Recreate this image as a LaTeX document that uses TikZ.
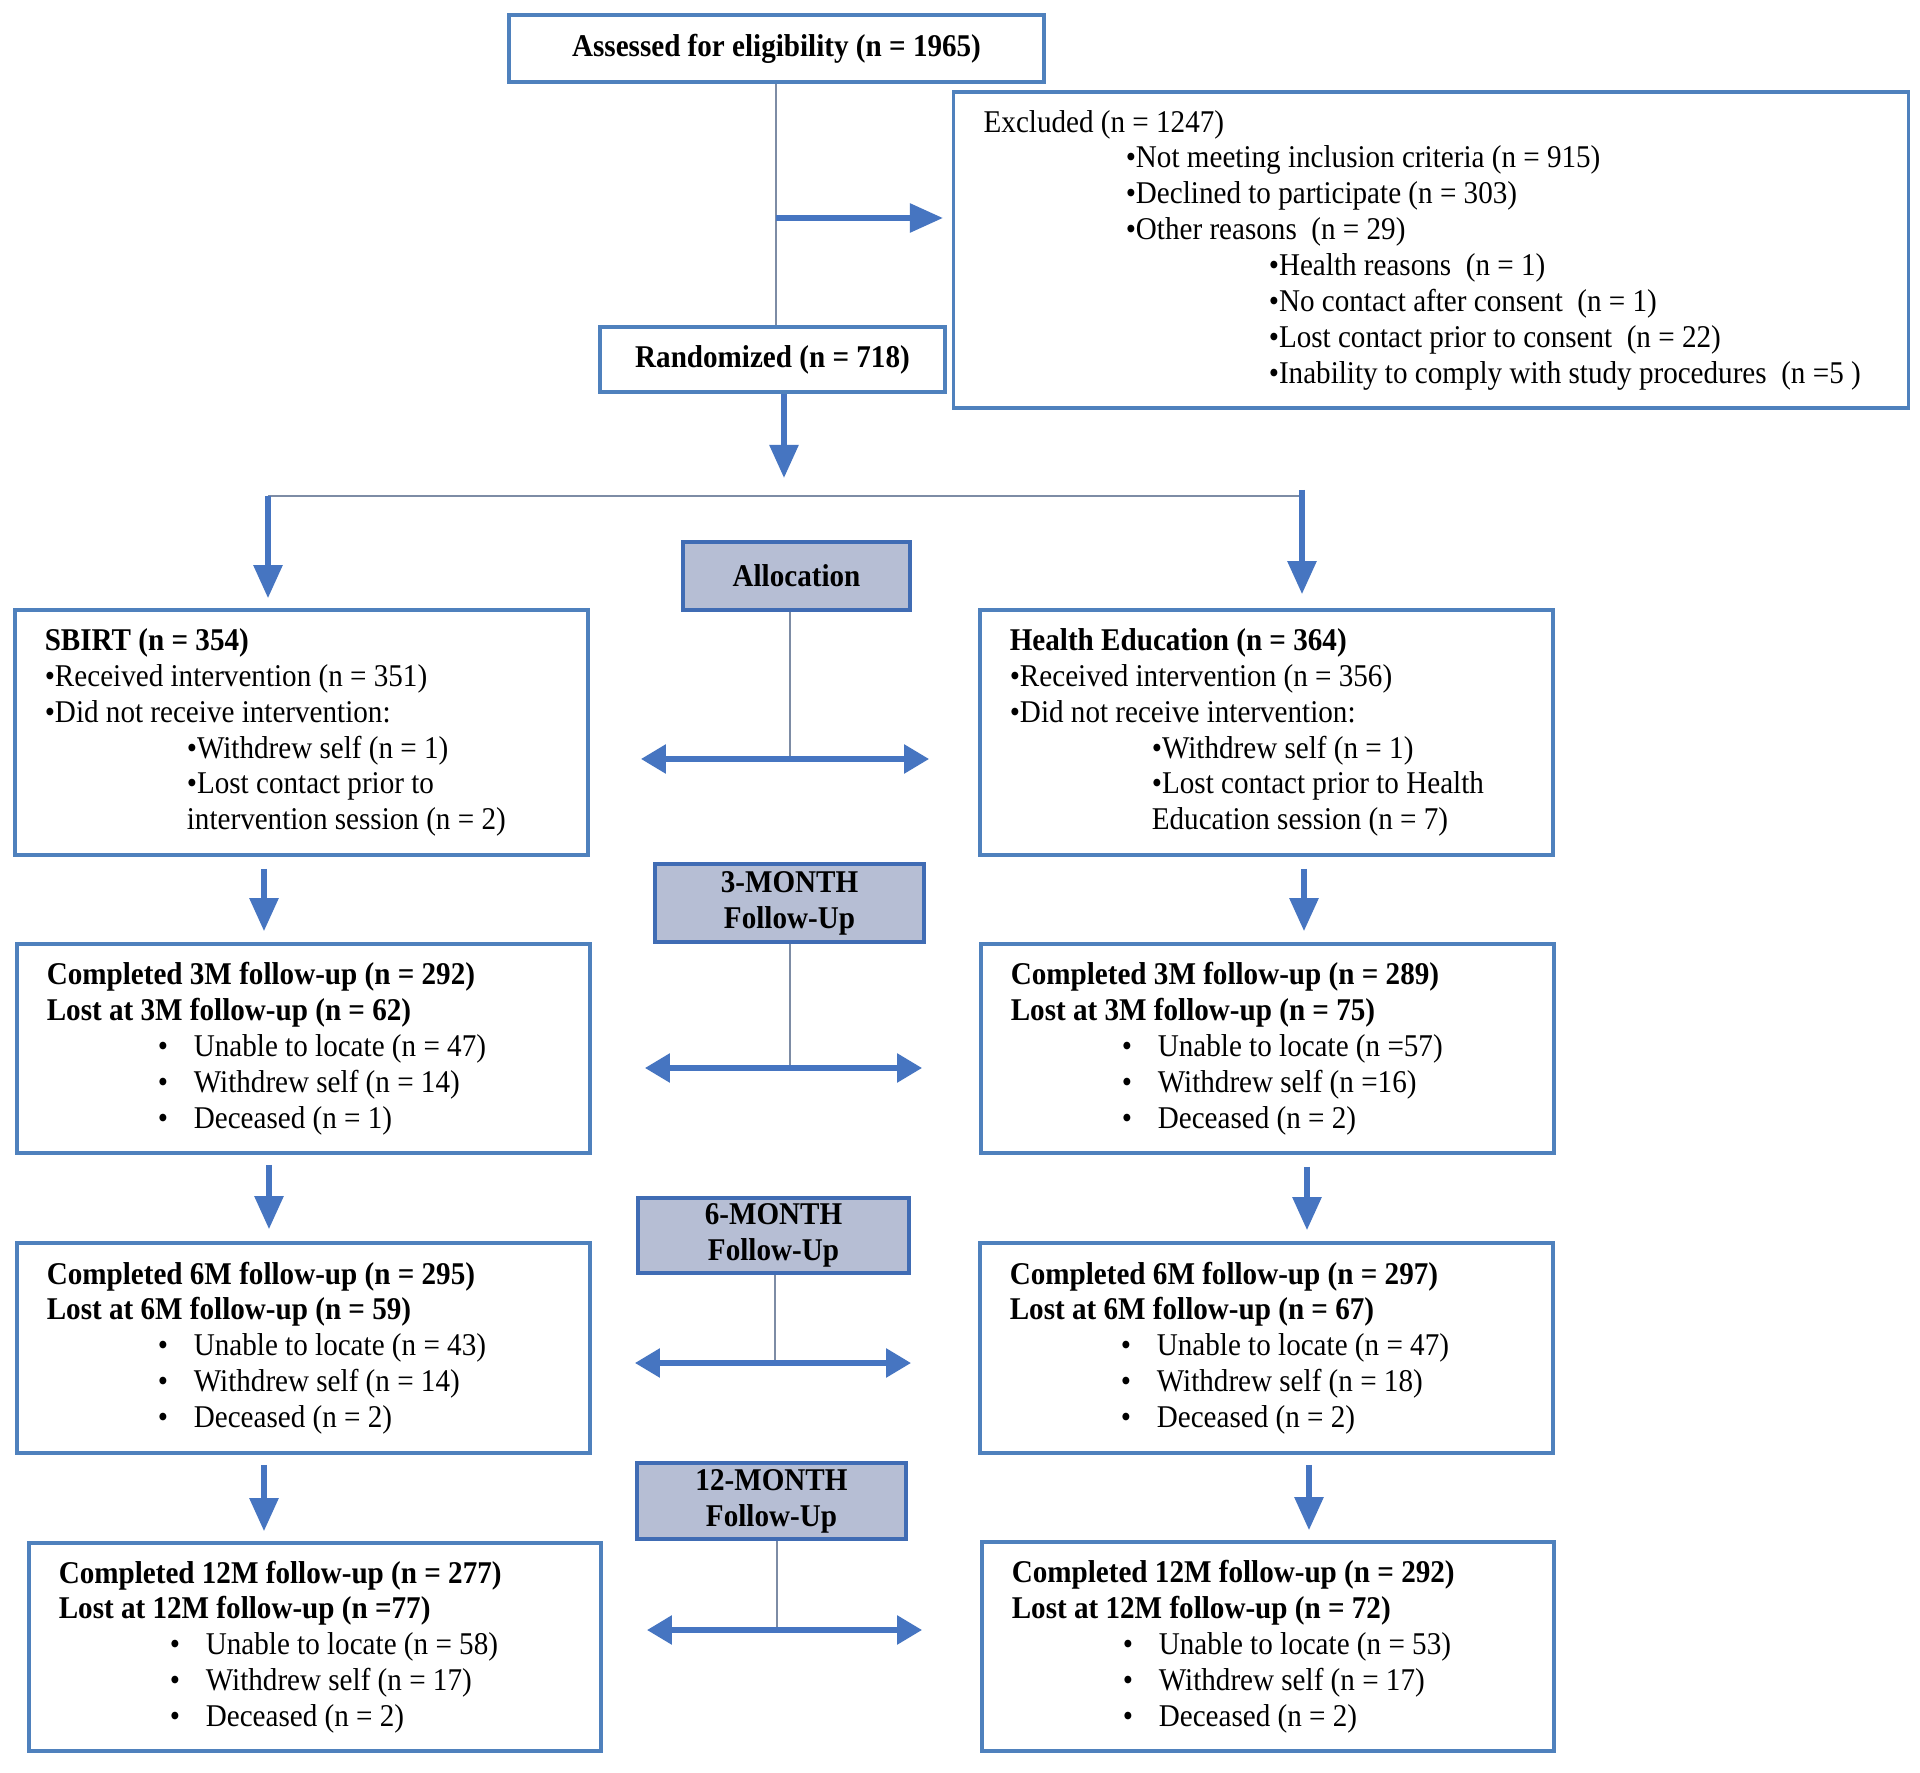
\documentclass[tikz,border=0pt]{standalone}
\usepackage{fontspec}
\setmainfont{Liberation Serif}[FakeStretch=0.92]
\usetikzlibrary{arrows.meta}
\definecolor{boxblue}{RGB}{79,129,189}
\definecolor{arrowblue}{RGB}{70,117,193}
\definecolor{thingray}{RGB}{125,140,165}
\definecolor{hdrfill}{RGB}{182,190,212}
\definecolor{hdrblue}{RGB}{64,108,180}
\begin{document}
\begin{tikzpicture}[x=0.01cm,y=-0.01cm,
  font=\fontsize{9}{10.2}\selectfont,
  box/.style={draw=boxblue, line width=1pt, rectangle, inner sep=0pt},
  txt/.style={align=left, inner sep=0pt, anchor=west, xshift=0.31cm},
  ctxt/.style={draw=boxblue, line width=1pt, rectangle, inner sep=0pt, align=center, font=\fontsize{9}{10.2}\selectfont\bfseries},
  hdr/.style={draw=hdrblue, fill=hdrfill, line width=1.2pt, rectangle, inner sep=0pt, align=center, font=\fontsize{9}{10.2}\selectfont\bfseries},
  thinln/.style={draw=thingray, line width=0.5pt},
  arr/.style={draw=arrowblue, line width=1.6pt, -{Triangle[length=0.33cm,width=0.28cm]}},
  darr/.style={draw=arrowblue, line width=1.6pt, {Triangle[length=0.25cm,width=0.28cm]}-{Triangle[length=0.25cm,width=0.28cm]}}]

\useasboundingbox[fill=white] (0,0) rectangle (1920,1773);

% top boxes
\node[ctxt, minimum width=5.35cm, minimum height=0.67cm] (a) at (776.5,48.5) {Assessed for eligibility (n = 1965)};
\node[box, minimum width=9.54cm, minimum height=3.16cm] (ex) at (1431,250) {};
\node[txt] (ext) at (ex.west) {Excluded (n = 1247)\\
\hspace*{1.42cm}•Not meeting inclusion criteria (n = 915)\\
\hspace*{1.42cm}•Declined to participate (n = 303)\\
\hspace*{1.42cm}•Other reasons\ \ (n = 29)\\
\hspace*{2.85cm}•Health reasons\ \ (n = 1)\\
\hspace*{2.85cm}•No contact after consent\ \ (n = 1)\\
\hspace*{2.85cm}•Lost contact prior to consent\ \ (n = 22)\\
\hspace*{2.85cm}•Inability to comply with study procedures\ \ (n =5 )};
\node[ctxt, minimum width=3.45cm, minimum height=0.65cm] (r) at (772.5,359.5) {Randomized (n = 718)};

% allocation row
\node[hdr, minimum width=2.27cm, minimum height=0.68cm] (al) at (796.5,576) {Allocation};
\node[box, minimum width=5.73cm, minimum height=2.45cm] (sb) at (301.5,732.5) {};
\node[txt] (sbt) at (sb.west) {\textbf{SBIRT (n = 354)}\\
•Received intervention (n = 351)\\
•Did not receive intervention:\\
\hspace*{1.42cm}•Withdrew self (n = 1)\\
\hspace*{1.42cm}•Lost contact prior to\\
\hspace*{1.42cm}intervention session (n = 2)};
\node[box, minimum width=5.73cm, minimum height=2.45cm] (he) at (1266.5,732.5) {};
\node[txt] (het) at (he.west) {\textbf{Health Education (n = 364)}\\
•Received intervention (n = 356)\\
•Did not receive intervention:\\
\hspace*{1.42cm}•Withdrew self (n = 1)\\
\hspace*{1.42cm}•Lost contact prior to Health\\
\hspace*{1.42cm}Education session (n = 7)};

% 3 month
\node[hdr, minimum width=2.69cm, minimum height=0.78cm] (h3) at (789.5,903) {3-MONTH\\Follow-Up};
\node[box, minimum width=5.73cm, minimum height=2.09cm] (m3l) at (303.5,1048.5) {};
\node[txt] (m3lt) at (m3l.west) {\textbf{Completed 3M follow-up (n = 292)}\\
\textbf{Lost at 3M follow-up (n = 62)}\\
\hspace*{1.11cm}\makebox[0.36cm][l]{•}Unable to locate (n = 47)\\
\hspace*{1.11cm}\makebox[0.36cm][l]{•}Withdrew self (n = 14)\\
\hspace*{1.11cm}\makebox[0.36cm][l]{•}Deceased (n = 1)};
\node[box, minimum width=5.73cm, minimum height=2.09cm] (m3r) at (1267.5,1048.5) {};
\node[txt] (m3rt) at (m3r.west) {\textbf{Completed 3M follow-up (n = 289)}\\
\textbf{Lost at 3M follow-up (n = 75)}\\
\hspace*{1.11cm}\makebox[0.36cm][l]{•}Unable to locate (n =57)\\
\hspace*{1.11cm}\makebox[0.36cm][l]{•}Withdrew self (n =16)\\
\hspace*{1.11cm}\makebox[0.36cm][l]{•}Deceased (n = 2)};

% 6 month
\node[hdr, minimum width=2.71cm, minimum height=0.75cm] (h6) at (773.5,1235.5) {6-MONTH\\Follow-Up};
\node[box, minimum width=5.73cm, minimum height=2.10cm] (m6l) at (303.5,1348) {};
\node[txt] (m6lt) at (m6l.west) {\textbf{Completed 6M follow-up (n = 295)}\\
\textbf{Lost at 6M follow-up (n = 59)}\\
\hspace*{1.11cm}\makebox[0.36cm][l]{•}Unable to locate (n = 43)\\
\hspace*{1.11cm}\makebox[0.36cm][l]{•}Withdrew self (n = 14)\\
\hspace*{1.11cm}\makebox[0.36cm][l]{•}Deceased (n = 2)};
\node[box, minimum width=5.73cm, minimum height=2.10cm] (m6r) at (1266.5,1348) {};
\node[txt] (m6rt) at (m6r.west) {\textbf{Completed 6M follow-up (n = 297)}\\
\textbf{Lost at 6M follow-up (n = 67)}\\
\hspace*{1.11cm}\makebox[0.36cm][l]{•}Unable to locate (n = 47)\\
\hspace*{1.11cm}\makebox[0.36cm][l]{•}Withdrew self (n = 18)\\
\hspace*{1.11cm}\makebox[0.36cm][l]{•}Deceased (n = 2)};

% 12 month
\node[hdr, minimum width=2.69cm, minimum height=0.76cm] (h12) at (771.5,1501) {12-MONTH\\Follow-Up};
\node[box, minimum width=5.72cm, minimum height=2.08cm] (m12l) at (315,1647) {};
\node[txt] (m12lt) at (m12l.west) {\textbf{Completed 12M follow-up (n = 277)}\\
\textbf{Lost at 12M follow-up (n =77)}\\
\hspace*{1.11cm}\makebox[0.36cm][l]{•}Unable to locate (n = 58)\\
\hspace*{1.11cm}\makebox[0.36cm][l]{•}Withdrew self (n = 17)\\
\hspace*{1.11cm}\makebox[0.36cm][l]{•}Deceased (n = 2)};
\node[box, minimum width=5.72cm, minimum height=2.09cm] (m12r) at (1268,1646.5) {};
\node[txt] (m12rt) at (m12r.west) {\textbf{Completed 12M follow-up (n = 292)}\\
\textbf{Lost at 12M follow-up (n = 72)}\\
\hspace*{1.11cm}\makebox[0.36cm][l]{•}Unable to locate (n = 53)\\
\hspace*{1.11cm}\makebox[0.36cm][l]{•}Withdrew self (n = 17)\\
\hspace*{1.11cm}\makebox[0.36cm][l]{•}Deceased (n = 2)};

% coordinates
\coordinate (xa) at (776,218);
\coordinate (rend) at (784,478);
\coordinate (sl) at (268,496);
\coordinate (sr) at (1302,496);
\coordinate (sr2) at (1302,490);
\coordinate (alA) at (790,759);
\coordinate (h3A) at (790,1068);
\coordinate (h6A) at (775,1363);
\coordinate (h12A) at (777,1630);
\coordinate (xl1) at (264,0);
\coordinate (xr1) at (1304,0);
\coordinate (xl2) at (269,0);
\coordinate (xr2) at (1307,0);
\coordinate (xl3) at (264,0);
\coordinate (xr3) at (1309,0);

% connectors
\draw[thinln] (a.south -| xa) -- (r.north -| xa);
\draw[arr, shorten >=0.09cm] (xa) -- (xa -| ex.west);
\draw[arr] (r.south -| rend) -- (rend);
\draw[thinln] (sl) -- (sr);
\draw[arr, shorten >=0.1cm] (sl) -- (sl |- sb.north);
\draw[arr, shorten >=0.14cm] (sr2) -- (sr2 |- he.north);

\draw[thinln] (al.south -| alA) -- (alA);
\draw[darr, shorten <=0.51cm, shorten >=0.49cm] (alA -| sb.east) -- (alA -| he.west);
\draw[arr, shorten <=0.12cm, shorten >=0.11cm] (sb.south -| xl1) -- (m3l.north -| xl1);
\draw[arr, shorten <=0.12cm, shorten >=0.11cm] (he.south -| xr1) -- (m3r.north -| xr1);

\draw[thinln] (h3.south -| h3A) -- (h3A);
\draw[darr, shorten <=0.53cm, shorten >=0.57cm] (h3A -| m3l.east) -- (h3A -| m3r.west);
\draw[arr, shorten <=0.10cm, shorten >=0.12cm] (m3l.south -| xl2) -- (m6l.north -| xl2);
\draw[arr, shorten <=0.12cm, shorten >=0.11cm] (m3r.south -| xr2) -- (m6r.north -| xr2);

\draw[thinln] (h6.south -| h6A) -- (h6A);
\draw[darr, shorten <=0.43cm, shorten >=0.67cm] (h6A -| m6l.east) -- (h6A -| m6r.west);
\draw[arr, shorten <=0.10cm, shorten >=0.10cm] (m6l.south -| xl3) -- (m12l.north -| xl3);
\draw[arr, shorten <=0.10cm, shorten >=0.10cm] (m6r.south -| xr3) -- (m12r.north -| xr3);

\draw[thinln] (h12.south -| h12A) -- (h12A);
\draw[darr, shorten <=0.44cm, shorten >=0.58cm] (h12A -| m12l.east) -- (h12A -| m12r.west);
\end{tikzpicture}
\end{document}
